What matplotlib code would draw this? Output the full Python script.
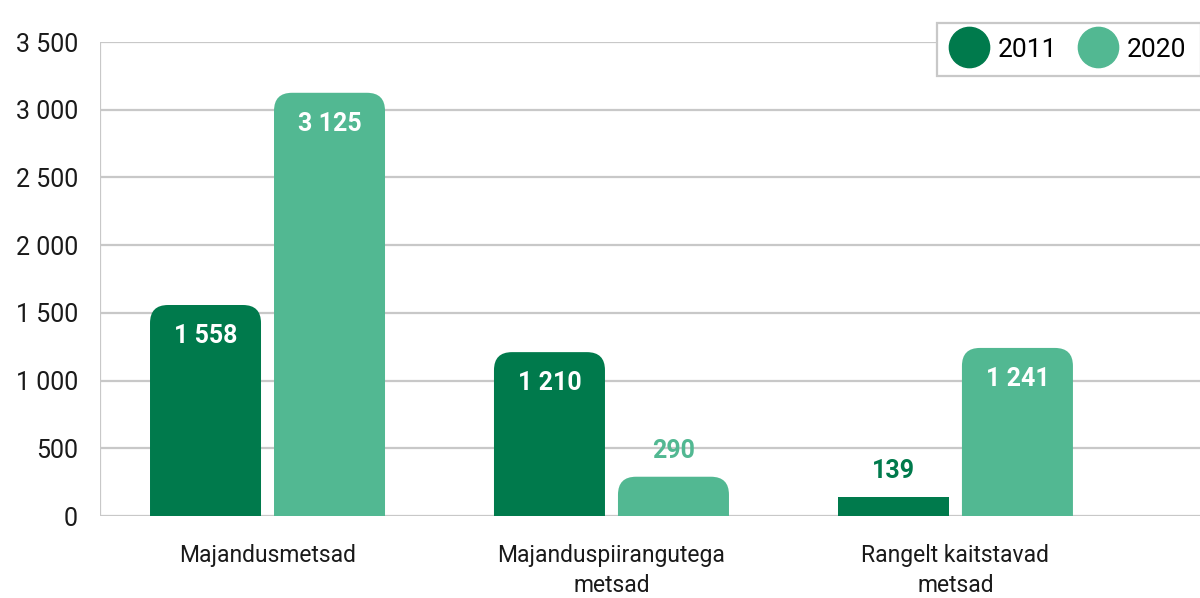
import matplotlib
matplotlib.use("Agg")
import matplotlib.pyplot as plt
from matplotlib.patches import FancyBboxPatch, Rectangle
from matplotlib.lines import Line2D
import numpy as np

plt.rcParams["font.family"] = ["Roboto", "DejaVu Sans"]

categories = ["Majandusmetsad", "Majanduspiirangutega\nmetsad", "Rangelt kaitstavad\nmetsad"]
series = ["2011", "2020"]
v2011 = [1558, 1210, 139]
v2020 = [3125, 290, 1241]
yticks = [0, 500, 1000, 1500, 2000, 2500, 3000, 3500]

C11 = "#007a4c"
C20 = "#52b892"
GRID = "#c8c8c8"

def fmt(v):
    return f"{v:,}".replace(",", " ")

W, H = 1200, 598
fig = plt.figure(figsize=(W / 100, H / 100), dpi=100)
ax = fig.add_axes([100 / W, 82 / H, 1100 / W, 474 / H])
xmin, xmax = -0.487, 2.711
ax.set_xlim(xmin, xmax)
ax.set_ylim(0, 3500)

px_x = 1100 / (xmax - xmin)   # pixels per x unit
px_y = 474 / 3500             # pixels per y unit
rad_px = 18
bw = 111 / px_x
off = 62 / px_x

for t in yticks:
    ax.axhline(t, color=GRID, lw=1.6, zorder=0)
ax.axvline(xmin, color=GRID, lw=1.6, zorder=0)

def bar(x, h, color):
    hp = h * px_y
    if hp < 2 * rad_px:
        ax.add_patch(Rectangle((x - bw / 2, 0), bw, h, fc=color, ec="none", zorder=2))
        return
    ext = rad_px / px_y * 1.2
    aspect = px_x / px_y
    ax.add_patch(FancyBboxPatch((x - bw / 2, -ext), bw, h + ext,
                                boxstyle=f"round,pad=0,rounding_size={rad_px / px_x}",
                                mutation_aspect=aspect, fc=color, ec="none", zorder=2))

x = np.arange(len(categories))
for xi, a, b in zip(x, v2011, v2020):
    for pos, v, c in ((xi - off, a, C11), (xi + off, b, C20)):
        bar(pos, v, c)
        if v * px_y > 60:
            ax.text(pos, v - 31 / px_y, fmt(v), ha="center", va="center",
                    color="white", fontsize=18, weight="bold", zorder=3)
        else:
            ax.text(pos, v + 26 / px_y, fmt(v), ha="center", va="center",
                    color=c, fontsize=18, weight="bold", zorder=3)

ax.set_yticks(yticks)
ax.set_yticklabels([fmt(t) for t in yticks], fontsize=18, color="#1a1a1a")
ax.set_xticks(x)
ax.set_xticklabels(categories, fontsize=16.5, color="#1a1a1a", linespacing=1.42)
ax.tick_params(length=0, axis="y", pad=16)
ax.tick_params(length=0, axis="x", pad=20)
for s in ax.spines.values():
    s.set_visible(False)

handles = [Line2D([], [], marker="o", ls="none", ms=29, color=c) for c in (C11, C20)]
leg = fig.legend(handles, series, loc="upper right", bbox_to_anchor=(1.012, 1 - 10 / H),
                 ncol=2, fontsize=19, frameon=True, fancybox=False, handletextpad=0.45,
                 columnspacing=0.9, borderpad=0.55, handlelength=1.3, framealpha=1)
leg.get_frame().set_edgecolor(GRID)
leg.get_frame().set_linewidth(1.6)

fig.savefig("out.png", dpi=100)
